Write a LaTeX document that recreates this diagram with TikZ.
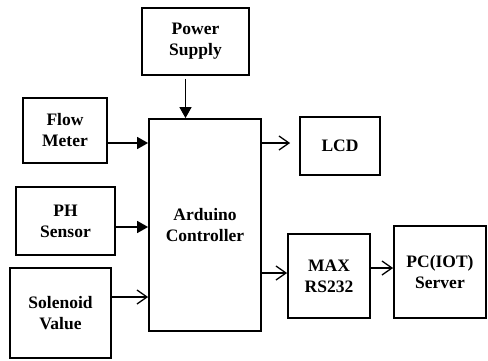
\documentclass[tikz,border=0pt]{standalone}
\usepackage{fontspec}
\setmainfont{Liberation Serif}
\usetikzlibrary{arrows.meta}

\begin{document}
\begin{tikzpicture}[x=1pt, y=-1pt,
  block/.style={draw, line width=1.8pt, align=center, inner sep=0pt,
    font=\bfseries\fontsize{17.5}{21}\selectfont},
  fed/.style={-{Triangle[length=11pt, width=12pt]}, line width=1.5pt},
  sent/.style={-{Straight Barb[length=10pt, width=14pt, line width=1.3pt]}, line width=1.3pt}]
  \useasboundingbox (0,0) rectangle (488,360);

  % blocks
  \node[block, minimum width=107pt, minimum height=67pt] (power) at (195.5,41.5) {Power\\Supply};
  \node[block, minimum width=84pt, minimum height=65pt] (flow) at (65,130.5) {Flow\\Meter};
  \node[block, minimum width=99pt, minimum height=68pt] (ph) at (65.5,221) {PH\\Sensor};
  \node[block, minimum width=101pt, minimum height=90pt] (sol) at (60.5,313) {Solenoid\\Value};
  \node[block, minimum width=112pt, minimum height=212pt] (ard) at (205,225) {Arduino\\Controller};
  \node[block, minimum width=80pt, minimum height=58pt] (lcd) at (340,146) {LCD};
  \node[block, minimum width=82pt, minimum height=84pt] (max) at (329,276) {MAX\\RS232};
  \node[block, minimum width=92pt, minimum height=92pt] (pc) at (440,272) {PC(IOT)\\Server};

  % inputs
  \draw[fed, shorten <=3pt] ([xshift=-10pt]power.south) -- ([xshift=-10pt]power.south |- ard.north);
  \draw[fed] ([yshift=-12.5pt]flow.east) -- ([yshift=-12.5pt]flow.east -| ard.west);
  \draw[fed] ([yshift=-6pt]ph.east) -- ([yshift=-6pt]ph.east -| ard.west);
  \draw[sent] ([yshift=16pt]sol.east) -- ([yshift=16pt]sol.east -| ard.west);

  % outputs
  \draw[sent, shorten >=9pt] ([yshift=3pt]lcd.west -| ard.east) -- ([yshift=3pt]lcd.west);
  \draw[sent] ([yshift=3pt]max.west -| ard.east) -- ([yshift=3pt]max.west);
  \draw[sent] ([yshift=8pt]max.east) -- ([yshift=8pt]max.east -| pc.west);
\end{tikzpicture}
\end{document}
